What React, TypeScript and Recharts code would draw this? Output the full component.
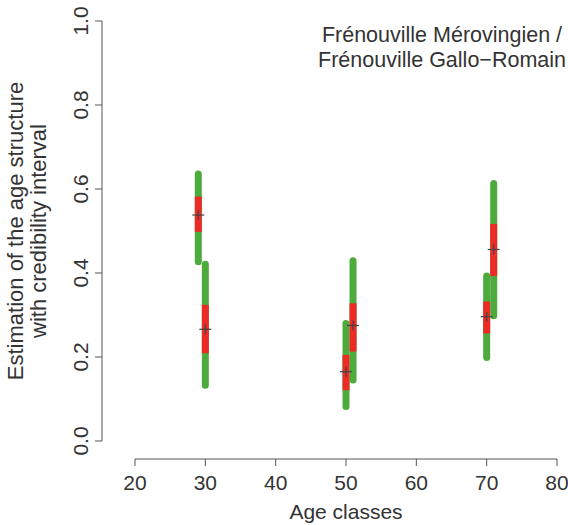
import {
  ComposedChart,
  XAxis,
  YAxis,
  Scatter,
  ReferenceLine,
} from "recharts";

// age class of each interval (two populations side by side)
const ages = [29, 30, 50, 51, 70, 71];
// 95% credibility interval (green)
const lower95 = [0.427, 0.133, 0.082, 0.145, 0.199, 0.298];
const upper95 = [0.636, 0.421, 0.28, 0.429, 0.393, 0.613];
// 50% credibility interval (red)
const lower50 = [0.498, 0.209, 0.121, 0.213, 0.256, 0.393];
const upper50 = [0.582, 0.324, 0.205, 0.328, 0.332, 0.517];
// point estimates
const means = [0.538, 0.266, 0.165, 0.275, 0.296, 0.456];

const xTicks = [20, 30, 40, 50, 60, 70, 80];
const yTicks = [0, 0.2, 0.4, 0.6, 0.8, 1];

const rows = ages.map((age, i) => ({
  age,
  lo95: lower95[i],
  hi95: upper95[i],
  lo50: lower50[i],
  hi50: upper50[i],
  mean: means[i],
}));

const FONT = "'Liberation Sans', Arial, Helvetica, sans-serif";
const TEXT = "#333";
const AXIS = "#555";
const GREEN = "#4cab3c";
const RED = "#ec2a26";

// domains chosen so the plot area matches the R layout
const X_DOMAIN: [number, number] = [15.308, 81.422];
const Y_DOMAIN: [number, number] = [-0.04286, 1.04048];

function XTick(props: any) {
  const { x, y, payload } = props;
  return (
    <text x={x} y={y + 24} textAnchor="middle" fontSize={21} fontFamily={FONT} fill={TEXT}>
      {payload.value}
    </text>
  );
}

function YTick(props: any) {
  const { x, y, payload } = props;
  const tx = x - 7;
  return (
    <text
      x={tx}
      y={y}
      transform={`rotate(-90, ${tx}, ${y})`}
      textAnchor="middle"
      fontSize={21}
      fontFamily={FONT}
      fill={TEXT}
    >
      {Number(payload.value).toFixed(1)}
    </text>
  );
}

function Cross(props: any) {
  const { cx, cy } = props;
  return (
    <g stroke="#444" strokeWidth={1.2}>
      <line x1={cx - 6} x2={cx + 6} y1={cy} y2={cy} />
      <line x1={cx} x2={cx} y1={cy - 5} y2={cy + 5} />
    </g>
  );
}

export default function App() {
  return (
    <div style={{ position: "absolute", left: 0, top: 0, width: 568, height: 525, background: "#fff" }}>
      <ComposedChart
        width={568}
        height={525}
        data={rows}
        margin={{ top: 4, right: 1, bottom: 0, left: 0 }}
      >
        <XAxis
          dataKey="age"
          type="number"
          domain={X_DOMAIN}
          allowDataOverflow
          ticks={xTicks}
          height={66}
          axisLine={false}
          tickSize={7}
          tickMargin={0}
          tickLine={{ stroke: AXIS }}
          tick={<XTick />}
          interval={0}
        />
        <YAxis
          type="number"
          domain={Y_DOMAIN}
          allowDataOverflow
          ticks={yTicks}
          width={102}
          axisLine={false}
          tickSize={7}
          tickMargin={0}
          tickLine={{ stroke: AXIS }}
          tick={<YTick />}
          interval={0}
        />

        {/* axis lines only over the tick range, like base R */}
        <ReferenceLine
          segment={[{ x: 20, y: Y_DOMAIN[0] }, { x: 80, y: Y_DOMAIN[0] }]}
          stroke={AXIS}
          ifOverflow="visible"
        />
        <ReferenceLine
          segment={[{ x: X_DOMAIN[0], y: 0 }, { x: X_DOMAIN[0], y: 1 }]}
          stroke={AXIS}
          ifOverflow="visible"
        />

        {rows.map((r, i) => (
          <ReferenceLine
            key={`g${i}`}
            segment={[{ x: r.age, y: r.lo95 }, { x: r.age, y: r.hi95 }]}
            stroke={GREEN}
            strokeWidth={7}
            strokeLinecap="round"
          />
        ))}
        {rows.map((r, i) => (
          <ReferenceLine
            key={`r${i}`}
            segment={[{ x: r.age, y: r.lo50 }, { x: r.age, y: r.hi50 }]}
            stroke={RED}
            strokeWidth={7}
            strokeLinecap="butt"
          />
        ))}

        <Scatter dataKey="mean" shape={<Cross />} isAnimationActive={false} />

        <text x={346} y={519} textAnchor="middle" fontSize={21} fontFamily={FONT} fill={TEXT}>
          Age classes
        </text>
        <g transform="rotate(-90, 0, 0)" fontSize={22} fontFamily={FONT} fill={TEXT}>
          <text x={-231} y={23} textAnchor="middle">
            Estimation of the age structure
          </text>
          <text x={-231} y={46} textAnchor="middle">
            with credibility interval
          </text>
        </g>
        <g fontSize={21.5} fontFamily={FONT} fill={TEXT}>
          <text x={442} y={42} textAnchor="middle">
            Frénouville Mérovingien /
          </text>
          <text x={442} y={67} textAnchor="middle">
            Frénouville Gallo−Romain
          </text>
        </g>
      </ComposedChart>
    </div>
  );
}
